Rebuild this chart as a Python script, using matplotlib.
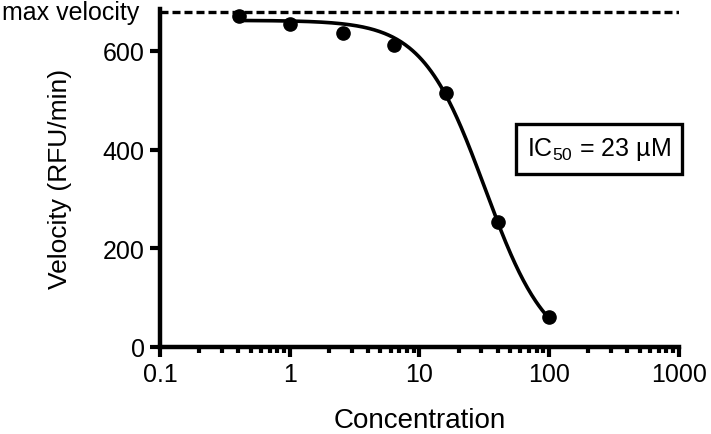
import numpy as np
import matplotlib
matplotlib.use("Agg")
import matplotlib.pyplot as plt
from matplotlib.ticker import LogLocator, FixedLocator, NullFormatter

plt.rcParams["font.family"] = ["Liberation Sans", "DejaVu Sans"]
plt.rcParams["mathtext.fontset"] = "custom"
plt.rcParams["mathtext.rm"] = "Liberation Sans"
plt.rcParams["mathtext.default"] = "regular"

# -------------------------------
# Data
# -------------------------------
concentration = [0.41, 1.0, 2.56, 6.4, 16, 40, 100]
velocity = [670, 655, 637, 612, 515, 254, 60]
max_velocity = 678

# 4-parameter fit shown as the curve
fit_top = 662
fit_bottom = -20
fit_mid = 32
fit_hill = 1.8

y_ticks = [0, 200, 400, 600]
x_ticks = [0.1, 1, 10, 100, 1000]
x_tick_labels = ["0.1", "1", "10", "100", "1000"]

fig = plt.figure(figsize=(7.11, 4.35), dpi=100)
ax = fig.add_axes([0.225, 0.2, 0.73, 0.777])

xc = np.logspace(np.log10(concentration[0]), np.log10(concentration[-1]), 300)
yc = fit_bottom + (fit_top - fit_bottom) / (1 + (xc / fit_mid) ** fit_hill)
ax.plot(xc, yc, color="black", lw=2.6, zorder=3)
ax.plot(concentration, velocity, "o", color="black", ms=9.5, zorder=4)

ax.axhline(max_velocity, color="black", lw=2.4, ls=(0, (2.4, 1.2)), zorder=2)

ax.set_xscale("log")
ax.set_xlim(0.1, 1000)
ax.set_ylim(0, 685)

ax.xaxis.set_major_locator(FixedLocator(x_ticks))
ax.set_xticklabels(x_tick_labels)
ax.xaxis.set_minor_locator(LogLocator(base=10, subs=np.arange(2, 10)))
ax.xaxis.set_minor_formatter(NullFormatter())
ax.set_yticks(y_ticks)

for side in ["top", "right"]:
    ax.spines[side].set_visible(False)
for side in ["left", "bottom"]:
    ax.spines[side].set_linewidth(3.2)

ax.tick_params(axis="both", which="major", direction="out", length=7, width=3,
               labelsize=18, pad=4)
ax.tick_params(axis="x", which="minor", direction="out", length=4.5, width=3)

ax.set_xlabel("Concentration", fontsize=20, labelpad=15)
ax.set_ylabel("Velocity (RFU/min)", fontsize=19, labelpad=22)

ax.text(-0.04, max_velocity, "max velocity", transform=ax.get_yaxis_transform(),
        ha="right", va="center", fontsize=18)

ax.text(0.846, 0.586, r"IC$_{50}$ = 23 µM", transform=ax.transAxes,
        ha="center", va="center", fontsize=18,
        bbox=dict(boxstyle="square,pad=0.45", fc="white", ec="black", lw=2.4))

fig.savefig("out.png", dpi=100)
